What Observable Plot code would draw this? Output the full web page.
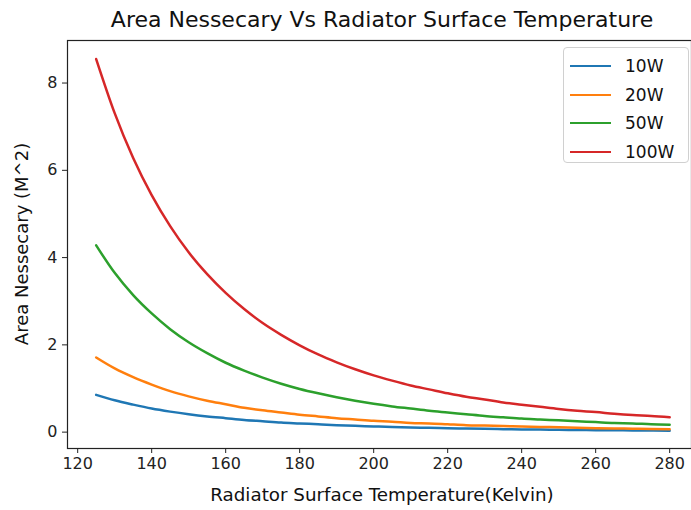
<!DOCTYPE html>
<html><head><meta charset="utf-8">
<script src="https://cdn.jsdelivr.net/npm/d3@7"></script>
<script src="https://cdn.jsdelivr.net/npm/@observablehq/plot@0.6"></script>
<style>
body{margin:0;background:#fff;font-family:"DejaVu Sans",sans-serif;}
#wrap{position:relative;width:691px;height:510px;overflow:hidden;background:#fff;}
#title{height:38px;line-height:40px;font-size:22px;color:#111;text-align:center;padding-left:73px;box-sizing:border-box;width:691px;white-space:nowrap;}
#legend{position:absolute;left:563px;top:47px;width:126px;height:116px;border:1px solid #d0d0d0;border-radius:4px;background:rgba(255,255,255,0.85);box-sizing:border-box;}
#legend .row{position:absolute;left:0;height:20px;font-size:17px;color:#111;}
#legend .sw{position:absolute;left:6px;top:9px;width:41px;height:0;border-top:2.5px solid;}
#legend .lb{position:absolute;left:61px;top:0;line-height:20px;}
#xlabel{position:absolute;left:67px;width:630px;top:484px;text-align:center;font-size:18.3px;color:#111;white-space:nowrap;}
#ylabel{position:absolute;left:21px;top:244px;font-size:18px;color:#111;white-space:nowrap;transform:translate(-50%,-50%) rotate(-90deg);}
svg{display:block;}
</style></head>
<body>
<div id="wrap">
<div id="title">Area Nessecary Vs Radiator Surface Temperature</div>
<div id="chart"></div>
<div id="xlabel"></div>
<div id="ylabel"></div>
<div id="legend"></div>
</div>
<script>
const temps = [125,130,135,140,145,150,155,160,165,170,175,180,185,190,195,200,205,210,215,220,225,230,235,240,245,250,255,260,265,270,275,280];
const w10  = [0.855,0.73,0.63,0.54,0.47,0.41,0.36,0.32,0.28,0.25,0.22,0.20,0.18,0.16,0.144,0.13,0.118,0.107,0.098,0.089,0.081,0.075,0.068,0.063,0.058,0.053,0.049,0.046,0.042,0.039,0.037,0.034];
const w20  = [1.71,1.46,1.26,1.09,0.94,0.82,0.72,0.64,0.56,0.50,0.45,0.40,0.36,0.32,0.29,0.26,0.24,0.21,0.20,0.18,0.16,0.15,0.14,0.13,0.12,0.11,0.10,0.09,0.085,0.08,0.073,0.068];
const w50  = [4.28,3.65,3.14,2.72,2.36,2.06,1.81,1.59,1.41,1.25,1.11,0.99,0.89,0.80,0.72,0.65,0.59,0.54,0.49,0.45,0.41,0.37,0.34,0.31,0.29,0.27,0.25,0.23,0.21,0.20,0.18,0.17];
const w100 = [8.55,7.31,6.28,5.43,4.72,4.12,3.62,3.19,2.82,2.50,2.23,1.99,1.78,1.60,1.44,1.30,1.18,1.07,0.98,0.89,0.81,0.75,0.68,0.63,0.58,0.53,0.49,0.46,0.42,0.39,0.37,0.34];
const seriesNames = ["10W","20W","50W","100W"];
const seriesColors = ["#1f77b4","#ff7f0e","#2ca02c","#d62728"];
const xTicks = [120,140,160,180,200,220,240,260,280];
const yTicks = [0,2,4,6,8];
const xLabel = "Radiator Surface Temperature(Kelvin)";
const yLabel = "Area Nessecary (M^2)";

const seriesValues = [w10,w20,w50,w100];
const rows = seriesNames.flatMap((n,k)=>temps.map((t,i)=>({T:t,A:seriesValues[k][i],s:n})));

const plot = Plot.plot({
  width:691, height:472,
  marginTop:2, marginBottom:62, marginLeft:67, marginRight:0,
  style:{fontFamily:"DejaVu Sans", fontSize:"16px", color:"#222", background:"white", overflow:"visible"},
  x:{domain:[117.25,285.9]},
  y:{domain:[-0.375,8.975]},
  color:{domain:seriesNames, range:seriesColors},
  marks:[
    Plot.line(rows,{x:"T",y:"A",z:"s",stroke:"s",strokeWidth:2.5,curve:"monotone-x"}),
    Plot.frame({stroke:"#222", strokeWidth:1.2}),
    Plot.axisX({ticks:xTicks, tickSize:5, tickPadding:4, label:null, fontSize:16}),
    Plot.axisY({ticks:yTicks, tickSize:5, tickPadding:5, label:null, fontSize:16})
  ]
});
document.getElementById("chart").appendChild(plot);
document.getElementById("xlabel").textContent = xLabel;
document.getElementById("ylabel").textContent = yLabel;

const lg = document.getElementById("legend");
seriesNames.forEach((n,i)=>{
  const r = document.createElement("div");
  r.className="row"; r.style.top=(8+i*28.7)+"px"; r.style.width="120px";
  r.innerHTML = `<div class="sw" style="border-color:${seriesColors[i]}"></div><div class="lb">${n}</div>`;
  lg.appendChild(r);
});
</script>
</body></html>
